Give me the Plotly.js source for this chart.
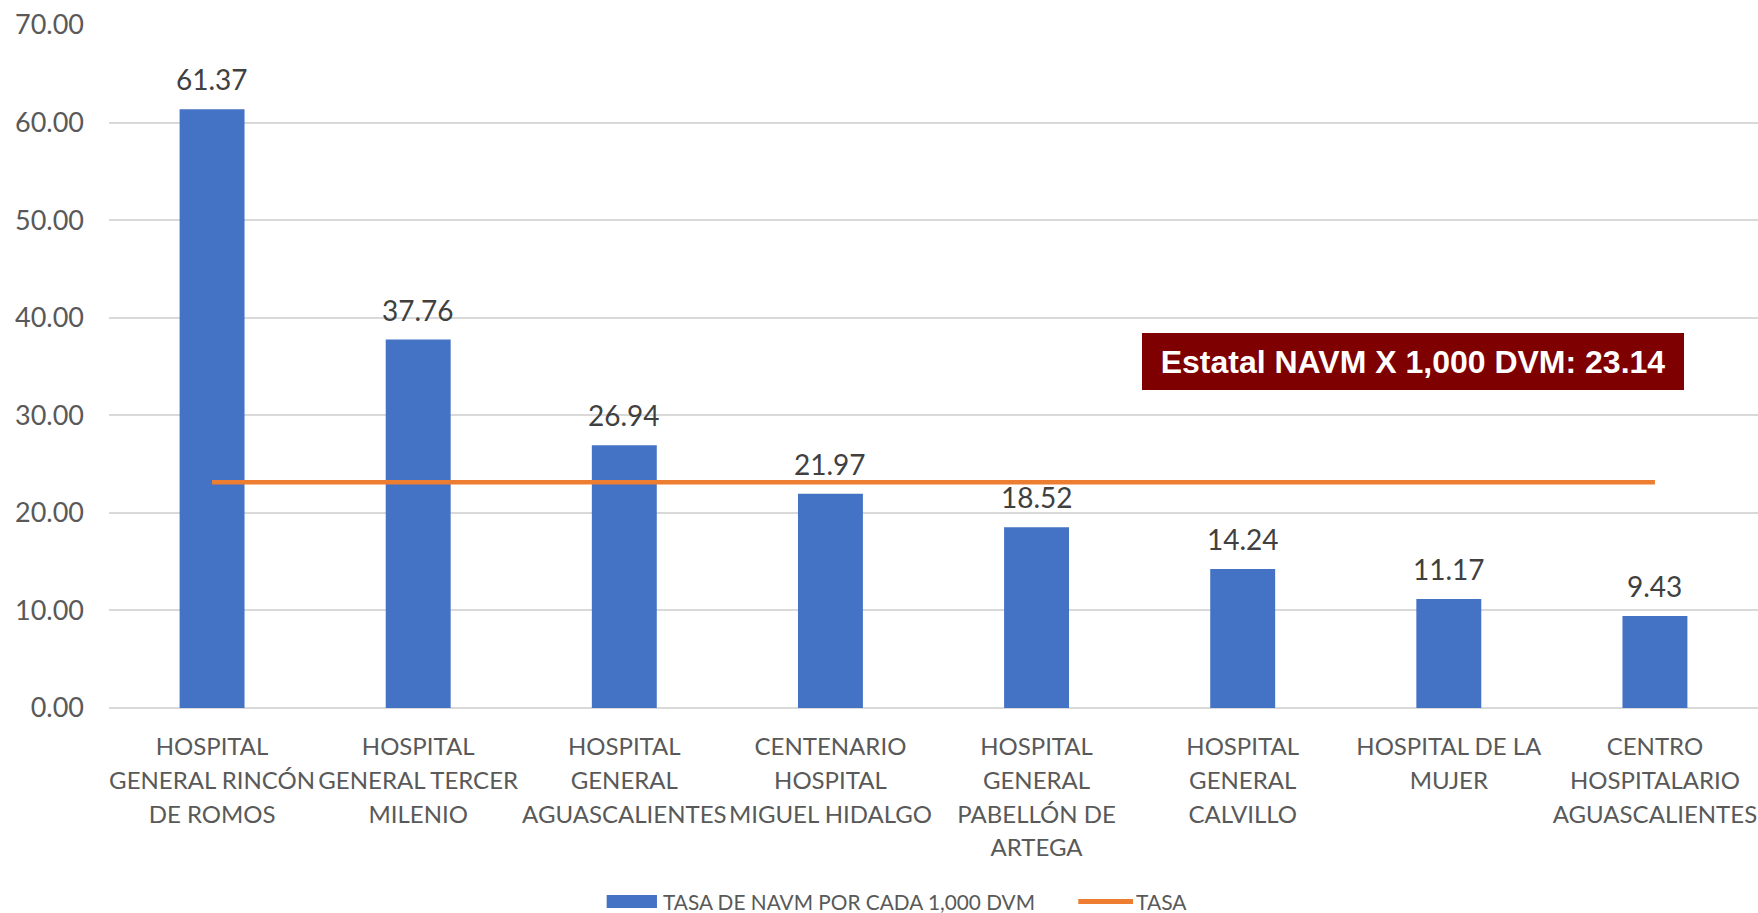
<!DOCTYPE html>
<html>
<head>
<meta charset="utf-8">
<script src="https://cdn.plot.ly/plotly-3.0.1.min.js"></script>
<style>html,body{margin:0;padding:0;background:#fff;}#chart{width:1758px;height:913px;}</style>
</head>
<body>
<div id="chart"></div>
<script>
const categories = ["HGRR", "HGTM", "HGA", "CHMH", "HGPA", "HGC", "HM", "CHA"];
const tickLabels = [
  ["HOSPITAL", "GENERAL RINCÓN", "DE ROMOS"],
  ["HOSPITAL", "GENERAL TERCER", "MILENIO"],
  ["HOSPITAL", "GENERAL", "AGUASCALIENTES"],
  ["CENTENARIO", "HOSPITAL", "MIGUEL HIDALGO"],
  ["HOSPITAL", "GENERAL", "PABELLÓN DE", "ARTEGA"],
  ["HOSPITAL", "GENERAL", "CALVILLO"],
  ["HOSPITAL DE LA", "MUJER"],
  ["CENTRO", "HOSPITALARIO", "AGUASCALIENTES"]
];
const tasaNavm = [61.37, 37.76, 26.94, 21.97, 18.52, 14.24, 11.17, 9.43];
const tasaEstatal = [23.14, 23.14, 23.14, 23.14, 23.14, 23.14, 23.14, 23.14];
const yTicks = [0, 10, 20, 30, 40, 50, 60, 70];
const barName = "TASA DE NAVM POR CADA 1,000 DVM";
const lineName = "TASA";
const boxText = "Estatal NAVM X 1,000 DVM: 23.14";

const labelFont = "Lato, 'Open Sans', sans-serif";
const barColor = "#4472C4";
const lineColor = "#ED7D31";

const traces = [
  {
    type: "bar",
    x: categories,
    y: tasaNavm,
    name: barName,
    marker: {color: barColor},
    hoverinfo: "y"
  },
  {
    type: "scatter",
    mode: "lines",
    x: categories,
    y: tasaEstatal,
    name: lineName,
    line: {color: lineColor, width: 4.5},
    hoverinfo: "y"
  }
];

const annotations = categories.map((c, i) => ({
  x: c, y: tasaNavm[i], xref: "x", yref: "y",
  text: tasaNavm[i].toFixed(2),
  showarrow: false, yanchor: "bottom", yshift: 11,
  font: {family: labelFont, size: 28, color: "#404040"}
}));
annotations.push({
  xref: "paper", yref: "paper", x: 0.791, y: 0.508,
  xanchor: "center", yanchor: "middle",
  text: "<b>" + boxText + "</b>",
  showarrow: false,
  bgcolor: "#7F0000", borderpad: 0, borderwidth: 0,
  width: 542, height: 57,
  font: {family: "'Liberation Sans', Arial, sans-serif", size: 32, color: "#FFFFFF"}
});
// legend texts
annotations.push({
  xref: "paper", yref: "paper", x: 0.3345, y: -0.2833, xanchor: "left", yanchor: "middle",
  text: barName, showarrow: false,
  font: {family: labelFont, size: 20.8, color: "#595959"}
});
annotations.push({
  xref: "paper", yref: "paper", x: 0.6215, y: -0.2833, xanchor: "left", yanchor: "middle",
  text: lineName, showarrow: false,
  font: {family: labelFont, size: 21, color: "#595959"}
});

const shapes = [
  {type: "rect", xref: "paper", yref: "paper", x0: 0.3018, x1: 0.3323, y0: -0.2928, y1: -0.2738,
   fillcolor: barColor, line: {width: 0}},
  {type: "line", xref: "paper", yref: "paper", x0: 0.5878, x1: 0.6210, y0: -0.2833, y1: -0.2833,
   line: {color: lineColor, width: 5}}
];

const tickText = tickLabels.map(lines => lines.map(l => '<span style="font-size:24px">' + l + '</span>').join("<br>"));

const layout = {
  width: 1758, height: 913,
  margin: {l: 109, r: 0, t: 25, b: 205},
  paper_bgcolor: "#FFFFFF", plot_bgcolor: "#FFFFFF",
  bargap: 0.685,
  showlegend: false,
  xaxis: {
    type: "category", automargin: false,
    tickmode: "array", tickvals: categories, ticktext: tickText,
    tickfont: {family: labelFont, size: 26, color: "#595959"},
    showgrid: false, showline: false, ticks: "",
    ticklabelstandoff: 20,
    fixedrange: true
  },
  yaxis: {
    range: [0, 70], automargin: false,
    tickmode: "array", tickvals: yTicks,
    tickformat: ".2f",
    tickfont: {family: labelFont, size: 27, color: "#595959"},
    showgrid: true, gridcolor: "#D9D9D9", gridwidth: 1.5,
    zeroline: true, zerolinecolor: "#D9D9D9", zerolinewidth: 1.5,
    showline: false, ticks: "",
    ticklabelstandoff: 24,
    fixedrange: true
  },
  annotations: annotations,
  shapes: shapes
};

Plotly.newPlot("chart", traces, layout, {displayModeBar: false, responsive: false});
</script>
</body>
</html>
